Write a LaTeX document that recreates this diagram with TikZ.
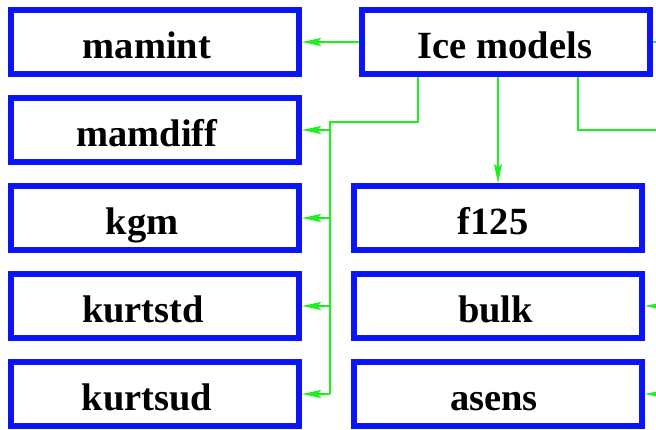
\documentclass[tikz,border=0pt]{standalone}
\usepackage{fontspec}
\setmainfont{Liberation Serif}
\usetikzlibrary{arrows.meta}
\definecolor{boxblue}{RGB}{10,20,245}
\definecolor{lgreen}{RGB}{30,240,30}
\newcommand{\shl}[2]{\hspace*{-#1pt}#2}
\begin{document}
\begin{tikzpicture}[x=1pt,y=-1pt,
  box/.style={draw=boxblue,line width=6pt,minimum width=288pt,minimum height=64pt,
    inner sep=0pt,text height=32pt,text depth=0pt,
    font=\fontsize{38.5}{40}\selectfont\bfseries},
  wire/.style={draw=lgreen,line width=1.4pt},
  arr/.style={wire,-{Stealth[length=19pt,width=8pt,inset=3pt]}}]
\useasboundingbox (0,0) rectangle (656,429);
\clip (0,0) rectangle (656,429);
% left column
\node[box] (mamint)  at (155,42)  {\shl{16}{mamint}};
\node[box] (mamdiff) at (155,130) {\shl{16}{mamdiff}};
\node[box] (kgm)     at (155,218) {\shl{26}{kgm}};
\node[box] (kurtstd) at (155,306) {\shl{24}{kurtstd}};
\node[box] (kurtsud) at (155,394) {\shl{16}{kurtsud}};
% top and right column
\node[box] (ice)   at (506,42)  {\shl{2}{Ice models}};
\node[box] (f125)  at (498,218) {\shl{10}{f125}};
\node[box] (bulk)  at (498,306) {\shl{5}{bulk}};
\node[box] (asens) at (498,394) {\shl{8}{asens}};
% free ends beyond the right edge
\coordinate (outice)  at (690,42);
\coordinate (outmid)  at (690,130);
\coordinate (inbulk)  at (690,306);
\coordinate (inasens) at (690,394);
\coordinate (bus) at (330,122);
% connectors
\draw[arr] (ice.west) -- (mamint.east);
\draw[wire] ([xshift=-88pt]ice.south) |- (bus) -- (bus |- kurtsud.east);
\draw[arr] (bus |- mamdiff.east) -- (mamdiff.east);
\draw[arr] (bus |- kgm.east) -- (kgm.east);
\draw[arr] (bus |- kurtstd.east) -- (kurtstd.east);
\draw[arr] (bus |- kurtsud.east) -- (kurtsud.east);
\draw[arr] (ice.south -| f125.north) -- (f125.north);
\draw[wire] (ice.east) -- (outice);
\draw[wire] ([xshift=72pt]ice.south) |- (outmid);
\draw[arr] (inbulk) -- (bulk.east);
\draw[arr] (inasens) -- (asens.east);
\end{tikzpicture}
\end{document}
